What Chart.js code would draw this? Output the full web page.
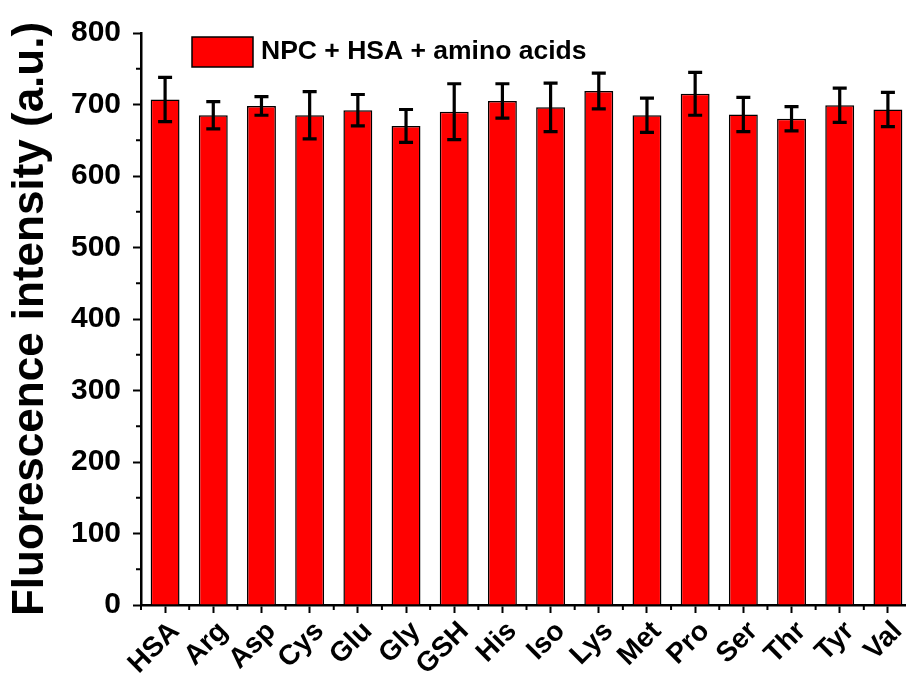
<!DOCTYPE html>
<html>
<head>
<meta charset="utf-8">
<script src="https://cdn.jsdelivr.net/npm/chart.js@4.4.0/dist/chart.umd.min.js"></script>
<style>
    html, body { margin: 0; padding: 0; background: #fff; overflow: hidden; }
    #wrap { width: 912px; height: 678px; }
</style>
</head>
<body>
<div id="wrap"><canvas id="fluoChart"></canvas></div>
<script>
// 各样品的荧光强度及误差
const categories = ['HSA', 'Arg', 'Asp', 'Cys', 'Glu', 'Gly', 'GSH', 'His', 'Iso', 'Lys', 'Met', 'Pro', 'Ser', 'Thr', 'Tyr', 'Val'];
const intensity = [707, 685, 698, 685, 692, 670, 690, 705, 696, 719, 685, 715, 686, 680, 699, 693];
const errors = [31, 19, 13, 33, 22, 23, 39, 24, 34, 25, 24, 30, 24, 17, 24, 24];
const seriesLabel = 'NPC + HSA + amino acids';
const yTicks = [0, 100, 200, 300, 400, 500, 600, 700, 800];

const FONT = 'Liberation Sans, Arial, sans-serif';

// 误差棒
const errorBars = {
    id: 'errorBars',
    afterDatasetsDraw(chart) {
        const { ctx, scales: { y } } = chart;
        const meta = chart.getDatasetMeta(0);
        ctx.save();
        ctx.strokeStyle = '#000';
        ctx.lineWidth = 3.2;
        meta.data.forEach((bar, i) => {
            const top = y.getPixelForValue(intensity[i] + errors[i]);
            const bottom = y.getPixelForValue(intensity[i] - errors[i]);
            const cap = 7;
            ctx.beginPath();
            ctx.moveTo(bar.x, top);
            ctx.lineTo(bar.x, bottom);
            ctx.moveTo(bar.x - cap, top);
            ctx.lineTo(bar.x + cap, top);
            ctx.moveTo(bar.x - cap, bottom);
            ctx.lineTo(bar.x + cap, bottom);
            ctx.stroke();
        });
        ctx.restore();
    }
};

// 次刻度线 + 图例
const minorTicks = {
    id: 'minorTicks',
    afterDraw(chart) {
        const { ctx, scales: { x, y }, chartArea } = chart;
        ctx.save();
        ctx.strokeStyle = '#000';
        ctx.lineWidth = 2;
        ctx.beginPath();
        for (let v = 50; v < 800; v += 100) {
            const py = y.getPixelForValue(v);
            ctx.moveTo(chartArea.left - 5, py);
            ctx.lineTo(chartArea.left, py);
        }
        const step = x.getPixelForValue(1) - x.getPixelForValue(0);
        for (let i = 0; i <= categories.length; i++) {
            const px = x.getPixelForValue(i) - step / 2;
            ctx.moveTo(px, chartArea.bottom);
            ctx.lineTo(px, chartArea.bottom + 5);
        }
        ctx.stroke();

        // 图例
        const lx = 192, ly = 37;
        ctx.fillStyle = '#ff0000';
        ctx.fillRect(lx, ly, 61, 30);
        ctx.lineWidth = 1.5;
        ctx.strokeRect(lx, ly, 61, 30);
        ctx.fillStyle = '#000';
        ctx.font = 'bold 26.5px ' + FONT;
        ctx.textBaseline = 'middle';
        ctx.fillText(seriesLabel, 261, ly + 15);
        ctx.restore();
    }
};

const ctx = document.getElementById('fluoChart').getContext('2d');

new Chart(ctx, {
    type: 'bar',
    data: {
        labels: categories,
        datasets: [{
            label: seriesLabel,
            data: intensity,
            backgroundColor: '#ff0000',
            borderColor: '#000',
            borderWidth: 1.5,
            categoryPercentage: 1,
            barPercentage: 0.6
        }]
    },
    options: {
        responsive: true,
        maintainAspectRatio: false,
        animation: false,
        layout: { padding: { top: 33, right: 0, left: 0, bottom: 0 } },
        plugins: {
            legend: { display: false },
            tooltip: { enabled: false }
        },
        scales: {
            x: {
                grid: {
                    offset: false,
                    drawOnChartArea: false,
                    drawTicks: true,
                    tickLength: 8,
                    tickWidth: 2,
                    tickColor: '#000'
                },
                border: { display: true, color: '#000', width: 2.5 },
                ticks: {
                    color: '#000',
                    font: { family: FONT, size: 28, weight: 'bold' },
                    minRotation: 45,
                    maxRotation: 45,
                    autoSkip: false,
                    padding: 2,
                    labelOffset: 10
                },
                afterFit(scale) {
                    scale.height = 73;
                    scale.paddingLeft = 0;
                    scale.paddingRight = 0;
                }
            },
            y: {
                min: 0,
                max: 800,
                afterBuildTicks(scale) {
                    scale.ticks = yTicks.map(v => ({ value: v }));
                },
                grid: {
                    drawOnChartArea: false,
                    drawTicks: true,
                    tickLength: 8,
                    tickWidth: 2,
                    tickColor: '#000'
                },
                border: { display: true, color: '#000', width: 2.5 },
                ticks: {
                    color: '#000',
                    font: { family: FONT, size: 30, weight: 'bold' },
                    padding: 12
                },
                title: {
                    display: true,
                    text: 'Fluorescence intensity (a.u.)',
                    color: '#000',
                    font: { family: FONT, size: 44, weight: 'bold' },
                    padding: { top: 4, bottom: 0 }
                },
                afterFit(scale) {
                    scale.width = 141;
                }
            }
        }
    },
    plugins: [errorBars, minorTicks]
});
</script>
</body>
</html>
